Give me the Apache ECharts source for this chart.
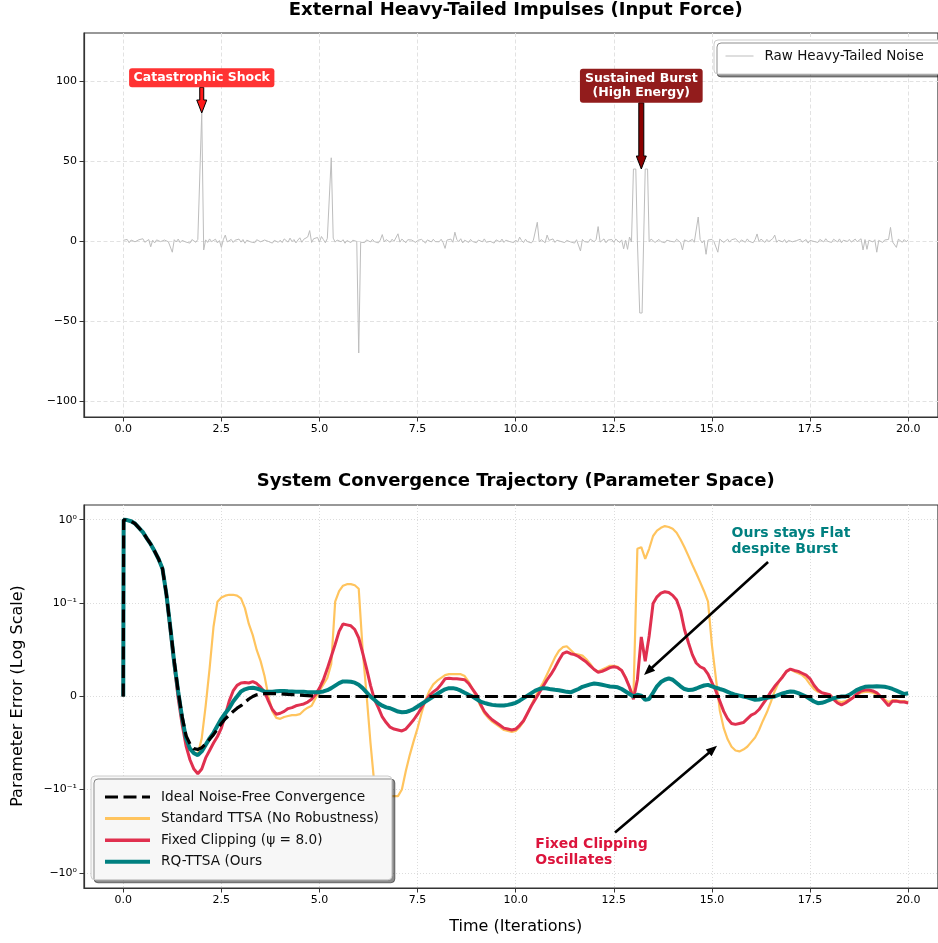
<!DOCTYPE html>
<html><head><meta charset="utf-8">
<script src="https://cdn.jsdelivr.net/npm/echarts@6/dist/echarts.min.js"></script>
<style>html,body{margin:0;padding:0;background:#fff;}#c{width:938px;height:943px;}</style>
</head><body><div id="c"></div>
<script>
// ---------- DATA ----------
const noiseStep = 0.05;   // coarse noise sampling
const burstStep = 0.02;   // fine sampling through the sustained burst
// raw noise, t = 0.00 .. 12.95
const noiseA = [
 0.4,-0.7,1.0,-1.1,0.6,1.3,-0.5,-1.0,0.8,-0.3,1.4,-0.8,0.2,0.9,-3.6,0.5,-1.2,0.7,1.6,-0.4,
 -0.9,0.6,1.1,-0.5,0.3,-7.0,0.8,-0.6,1.2,-1.0,0.4,1.5,-0.7,0.2,-1.3,0.9,0.5,-0.8,1.0,-0.2,
 80,-5.6,0.7,-0.9,1.3,-0.4,0.6,1.1,-1.2,0.3,-4.0,0.8,3.7,-0.6,0.4,1.0,-0.9,0.5,-0.3,1.2,
 -0.7,0.9,-1.4,0.5,1.0,-0.6,0.3,-1.1,0.8,1.5,-0.5,-0.9,0.6,1.1,-0.3,0.7,-1.3,0.4,1.2,-0.8,
 0.5,-1.0,1.3,0.2,-0.7,1.8,-0.4,0.9,-1.2,0.6,2.0,-0.8,1.1,0.4,2.5,6.5,-0.9,1.4,0.3,2.2,
 -0.6,2.8,0.9,-1.1,1.6,0.4,52,1.8,-0.7,0.6,1.2,-0.5,0.8,-1.4,0.3,0.7,-1.0,0.5,1.1,-0.3,
 -70,-0.8,0.4,-1.0,0.7,0.2,-0.6,1.0,-0.4,0.5,-1.2,0.6,4.0,-0.5,0.9,0.3,-0.8,1.1,-0.2,0.6,
 4.5,-0.7,1.2,0.3,-1.1,0.8,-0.3,0.6,1.3,-0.9,0.4,-0.5,1.0,0.2,-1.3,0.7,0.5,-0.6,1.1,-0.4,
 0.8,-0.5,1.1,-1.0,-4.6,0.6,0.3,1.2,-0.8,5.5,0.9,-0.4,1.4,-1.2,0.5,0.2,-0.9,1.0,-0.3,0.7,
 -1.1,0.6,0.9,-0.5,1.3,-0.8,0.4,-0.2,1.0,-1.3,0.7,0.3,-0.6,1.2,-0.9,0.5,1.5,-0.4,0.2,-1.0,
 0.6,-0.7,2.4,0.3,-1.0,1.1,-0.4,0.8,-1.2,0.5,1.0,11.7,-0.6,0.9,0.2,-1.1,3.7,0.4,-0.5,1.3,
 -0.9,0.5,1.2,-0.3,0.7,-1.0,0.4,1.1,-0.6,0.2,-1.3,0.8,0.5,-6.2,1.0,-0.4,0.6,-0.8,1.2,0.3,
 -0.5,1.0,9.0,-0.7,0.4,1.3,-1.1,0.6,-0.3,0.9,-0.8,1.2,0.2,-1.0,0.7,-4.9,0.5,-5.2,2.5,-0.6
];
// sustained burst, t = 13.00 .. 13.40
const burst = [45,45,45,45,45,0.5,0.2,-0.3,-45,-45,-45,-45,-45,0.6,0.3,45,45,45,45,45,-0.5];
// raw noise, t = 13.45 .. 20.00
const noiseB = [
 1.2,0.6,-0.9,0.3,1.0,-0.4,0.7,-1.1,0.5,1.3,-0.2,
 0.8,-0.6,1.1,0.4,-0.9,-5.6,0.7,1.3,-0.4,0.5,1.0,-0.8,0.3,15.0,0.9,-1.2,0.4,-8.3,0.6,-0.5,
 1.0,-0.3,0.5,-7.0,1.2,0.6,-0.9,0.3,1.1,-0.7,0.8,-0.4,1.4,0.2,-1.0,0.7,0.4,-0.8,1.3,-0.2,
 0.6,-1.1,0.9,4.4,-0.5,1.2,0.3,-0.9,1.0,-0.4,0.7,1.5,3.7,-0.8,0.5,1.1,-0.6,0.9,-1.2,0.4,
 1.3,-0.5,0.7,0.2,-1.0,1.1,-0.7,0.5,0.9,-1.3,0.4,1.2,-0.3,0.6,-0.9,1.0,0.3,-0.6,1.4,-0.2,
 0.7,-0.9,1.1,0.4,-0.6,1.3,-1.1,0.5,0.8,-0.3,1.0,-0.7,0.2,1.2,-0.5,0.6,1.4,-5.6,0.9,-5.2,
 0.5,1.1,-0.6,0.8,-7.0,0.4,1.2,-0.9,0.6,-0.3,1.0,8.5,-0.5,0.7,-4.0,1.1,0.3,-0.8,0.9,-0.4,
 0.6
];
const noiseAStart = 0, burstStart = 13.0, noiseBStart = 13.45;

// convergence time grid: 0, 0.01, then 0.1 .. 20.0
const convTimes = [0, 0.01].concat(Array.from({length: 200}, (_, i) => +((i + 1) * 0.1).toFixed(1)));

const idealVals = [0, 1.0,
 0.99,0.96,0.90,0.80,0.71,0.60,0.51,0.42,0.34,0.26,
 0.128,0.074,0.038,0.0054,-0.0216,-0.042,-0.051,-0.056,-0.057,-0.055,
 -0.051,-0.046,-0.041,-0.035,-0.029,-0.024,-0.020,-0.016,-0.0126,-0.0099,
 -0.0063,-0.0027,0,0.0018,0.0027,0.003,0.003,0.003,0.003,0.0028,
 0.0025,0.0022,0.002,0.0018,0.0015,0.0012,0.001,0.0007,0.0004,0.0002,
 0,0,0,0,0,0,0,0,0,0, 0,0,0,0,0,0,0,0,0,0, 0,0,0,0,0,0,0,0,0,0,
 0,0,0,0,0,0,0,0,0,0, 0,0,0,0,0,0,0,0,0,0, 0,0,0,0,0,0,0,0,0,0,
 0,0,0,0,0,0,0,0,0,0, 0,0,0,0,0,0,0,0,0,0, 0,0,0,0,0,0,0,0,0,0,
 0,0,0,0,0,0,0,0,0,0, 0,0,0,0,0,0,0,0,0,0, 0,0,0,0,0,0,0,0,0,0,
 0,0,0,0,0,0,0,0,0,0, 0,0,0,0,0,0,0,0,0,0, 0,0,0,0,0,0,0,0,0,0
];

const ttsaVals = [0, 1.0,
 0.99,0.96,0.90,0.80,0.71,0.60,0.51,0.42,0.34,0.26,
 0.128,0.074,0.036,0.0054,-0.022,-0.044,-0.055,-0.06,-0.062,-0.045,
 -0.01,0.03,0.075,0.105,0.118,0.124,0.127,0.127,0.124,0.115,
 0.095,0.078,0.066,0.05,0.038,0.022,0.0,-0.016,-0.023,-0.024,
 -0.022,-0.021,-0.02,-0.02,-0.019,-0.015,-0.012,-0.01,-0.002,0.006,
 0.013,0.02,0.035,0.105,0.14,0.163,0.17,0.17,0.165,0.15,
 0.05,0.002,-0.05,-0.095,-0.11,-0.115,-0.118,-0.12,-0.12,-0.12,
 -0.1,-0.08,-0.063,-0.048,-0.034,-0.018,-0.004,0.006,0.013,0.017,
 0.02,0.023,0.024,0.024,0.024,0.024,0.022,0.016,0.008,-0.001,
 -0.01,-0.018,-0.023,-0.027,-0.03,-0.033,-0.036,-0.037,-0.038,-0.037,
 -0.033,-0.027,-0.018,-0.009,0.0,0.008,0.015,0.024,0.033,0.042,
 0.049,0.053,0.054,0.05,0.046,0.045,0.044,0.04,0.035,0.029,
 0.027,0.029,0.031,0.033,0.033,0.032,0.028,0.021,0.01,0.0,
 0.45,0.47,0.34,0.45,0.64,0.74,0.8,0.84,0.82,0.78,
 0.7,0.58,0.47,0.37,0.29,0.23,0.18,0.14,0.105,0.055,
 0.02,-0.015,-0.034,-0.046,-0.054,-0.058,-0.059,-0.057,-0.054,-0.049,
 -0.044,-0.036,-0.026,-0.017,-0.006,0.006,0.015,0.022,0.027,0.029,
 0.027,0.025,0.023,0.019,0.013,0.008,0.005,0.004,0.003,0.002,
 -0.002,-0.005,-0.006,-0.005,-0.003,-0.001,0.002,0.004,0.005,0.005,
 0.004,0.002,0.0,-0.003,-0.006,-0.004,-0.004,-0.005,-0.005,-0.006
];

const clipVals = [0, 1.0,
 0.99,0.96,0.90,0.80,0.71,0.60,0.51,0.42,0.34,0.26,
 0.128,0.07,0.033,-0.002,-0.03,-0.053,-0.068,-0.078,-0.083,-0.078,
 -0.066,-0.058,-0.05,-0.043,-0.034,-0.02,-0.005,0.006,0.012,0.0145,
 0.015,0.0145,0.016,0.014,0.01,0.005,-0.005,-0.014,-0.019,-0.018,
 -0.016,-0.013,-0.012,-0.01,-0.009,-0.008,-0.006,-0.003,0.002,0.009,
 0.018,0.03,0.043,0.056,0.07,0.078,0.077,0.076,0.072,0.063,
 0.047,0.03,0.012,-0.003,-0.012,-0.022,-0.028,-0.033,-0.035,-0.036,
 -0.037,-0.035,-0.03,-0.025,-0.019,-0.012,-0.005,0.001,0.005,0.008,
 0.013,0.019,0.0195,0.019,0.019,0.0185,0.018,0.014,0.008,0.002,
 -0.008,-0.016,-0.021,-0.025,-0.028,-0.031,-0.034,-0.035,-0.036,-0.035,
 -0.031,-0.026,-0.018,-0.01,-0.003,0.004,0.011,0.018,0.024,0.031,
 0.039,0.046,0.048,0.046,0.045,0.043,0.04,0.037,0.033,0.029,
 0.026,0.027,0.029,0.031,0.032,0.031,0.028,0.02,0.01,-0.003,
 0.018,0.064,0.038,0.065,0.1,0.12,0.133,0.138,0.135,0.125,
 0.11,0.092,0.072,0.058,0.045,0.036,0.032,0.03,0.024,0.015,
 0.006,-0.005,-0.016,-0.024,-0.029,-0.03,-0.029,-0.028,-0.024,-0.02,
 -0.018,-0.014,-0.008,-0.002,0.005,0.011,0.016,0.021,0.027,0.0295,
 0.028,0.027,0.025,0.023,0.019,0.012,0.007,0.004,0.003,0.002,
 -0.003,-0.007,-0.009,-0.007,-0.004,-0.001,0.003,0.006,0.007,0.007,
 0.006,0.004,0.0,-0.005,-0.01,-0.005,-0.005,-0.006,-0.006,-0.007
];

const rqVals = [0, 1.0,
 0.99,0.96,0.90,0.80,0.71,0.60,0.51,0.42,0.34,0.26,
 0.128,0.074,0.036,0.0054,-0.023,-0.045,-0.056,-0.061,-0.063,-0.059,
 -0.052,-0.045,-0.039,-0.0315,-0.024,-0.018,-0.0126,-0.0054,0,0.0054,
 0.0077,0.009,0.0094,0.0086,0.0072,0.0054,0.005,0.0052,0.0056,0.0059,
 0.0059,0.0056,0.0054,0.0052,0.0051,0.005,0.0047,0.0045,0.0045,0.0047,
 0.0054,0.0068,0.009,0.0117,0.0144,0.0162,0.0162,0.0158,0.0149,0.0126,
 0.009,0.0045,0,-0.0036,-0.0072,-0.0099,-0.0117,-0.0126,-0.0144,-0.0162,
 -0.017,-0.0167,-0.0153,-0.0135,-0.0108,-0.0081,-0.0054,-0.0027,0,0.0027,
 0.0054,0.0077,0.009,0.009,0.0081,0.0063,0.004,0.0018,0,-0.0027,
 -0.0054,-0.0068,-0.0081,-0.009,-0.0095,-0.0096,-0.0096,-0.009,-0.0081,-0.0068,
 -0.0045,-0.0018,0.0009,0.0036,0.0063,0.0081,0.009,0.0086,0.0077,0.0072,
 0.0068,0.0059,0.005,0.0045,0.0063,0.0081,0.0104,0.0117,0.013,0.014,
 0.0135,0.0126,0.0117,0.0108,0.0104,0.0099,0.0081,0.0054,0.0027,0,
 0.0018,0.0009,-0.0036,-0.0027,0.004,0.011,0.0155,0.018,0.0195,0.018,
 0.0145,0.011,0.008,0.007,0.0072,0.0086,0.0104,0.0118,0.0125,0.011,
 0.0095,0.0081,0.0068,0.005,0.0032,0.0018,0.0009,0,-0.0009,-0.0023,
 -0.0036,-0.0032,-0.0023,-0.0014,-0.0005,0,0.0018,0.0032,0.0045,0.0054,
 0.005,0.0036,0.0018,0,-0.0027,-0.0054,-0.0072,-0.0068,-0.0054,-0.0036,
 -0.0018,-0.0009,0,0,0.0018,0.0045,0.0072,0.009,0.0104,0.0108,
 0.0108,0.011,0.0108,0.0104,0.0095,0.0081,0.0063,0.0045,0.0027,0.0035
];

const xTicks = [0, 2.5, 5, 7.5, 10, 12.5, 15, 17.5, 20];
const topYTicks = [-100, -50, 0, 50, 100];
const botYTicks = [-1, -0.1, 0, 0.1, 1];
const botYLabels = ['\u221210\u2070', '\u221210\u207b\u00b9', '0', '10\u207b\u00b9', '10\u2070'];

const names = {
  noise: 'Raw Heavy-Tailed Noise',
  ideal: 'Ideal Noise-Free Convergence',
  ttsa: 'Standard TTSA (No Robustness)',
  clip: 'Fixed Clipping (\u03c8 = 8.0)',
  rq: 'RQ-TTSA (Ours'
};

// ---------- symlog transform (linthresh 0.1, linscale 1, base 10) ----------
const LIN = 0.1, LSCALE = 1 / (1 - 1 / 10);
function symlog(v) {
  const a = Math.abs(v);
  if (a <= LIN) return v / LIN * LSCALE;
  return Math.sign(v) * (LSCALE + Math.log10(a / LIN));
}

const FONT = 'DejaVu Sans';
const AX = '#333';
const fmtMinus = v => String(v).replace('-', '\u2212');
// visible x-range (the figure is cropped on the right, so the axes end short of 21)
const X_MIN = -1, X_MAX = 20.76;

const noiseData = []
  .concat(noiseA.map((v, i) => [+(noiseAStart + i * noiseStep).toFixed(2), v]))
  .concat(burst.map((v, i) => [+(burstStart + i * burstStep).toFixed(2), v]))
  .concat(noiseB.map((v, i) => [+(noiseBStart + i * noiseStep).toFixed(2), v]));

function xAxisCfg(gi, gridType) {
  return {
    type: 'value', gridIndex: gi, min: X_MIN, max: X_MAX,
    axisLine: {show: true, onZero: false, lineStyle: {color: AX, width: 1.2}},
    axisTick: {show: true, customValues: xTicks, length: 4.5, lineStyle: {color: AX, width: 1}},
    axisLabel: {customValues: xTicks, formatter: v => v.toFixed(1), fontSize: 11, color: '#000', fontFamily: FONT, margin: 7},
    splitLine: {show: true, lineStyle: {color: gridType === 'dash' ? '#e2e2e2' : '#dcdcdc', width: 1, type: gridType === 'dash' ? [4, 2.5] : [1, 2]}}
  };
}

const botTickT = botYTicks.map(symlog);

const legendCommon = {
  orient: 'vertical', borderColor: '#cccccc', borderWidth: 1, borderRadius: 4,
  shadowColor: 'rgba(0,0,0,0.45)', shadowOffsetX: 3, shadowOffsetY: 3, shadowBlur: 0,
  itemStyle: {opacity: 0, borderWidth: 0}
};

const option = {
  animation: false,
  backgroundColor: '#ffffff',
  textStyle: {fontFamily: FONT},
  grid: [
    {left: 84, top: 33, right: 0, height: 384, show: true, borderColor: AX, borderWidth: 1.2, backgroundColor: 'transparent'},
    {left: 84, top: 505, right: 0, height: 383, show: true, borderColor: AX, borderWidth: 1.2, backgroundColor: 'transparent'}
  ],
  xAxis: [xAxisCfg(0, 'dash'), xAxisCfg(1, 'dot')],
  yAxis: [
    {
      type: 'value', gridIndex: 0, min: -110, max: 130,
      axisLine: {show: true, onZero: false, lineStyle: {color: AX, width: 1.2}},
      axisTick: {show: true, customValues: topYTicks, length: 4.5, lineStyle: {color: AX}},
      axisLabel: {customValues: topYTicks, formatter: v => fmtMinus(v), fontSize: 11, color: '#000', fontFamily: FONT, margin: 7},
      splitLine: {show: true, lineStyle: {color: '#e2e2e2', type: [4, 2.5]}}
    },
    {
      type: 'value', gridIndex: 1, min: -symlog(1.5), max: symlog(1.5),
      axisLine: {show: true, onZero: false, lineStyle: {color: AX, width: 1.2}},
      axisTick: {show: true, customValues: botTickT, length: 4.5, lineStyle: {color: AX}},
      axisLabel: {
        customValues: botTickT, fontSize: 11, color: '#000', fontFamily: FONT, margin: 7,
        formatter: v => { let k = 0, d = 1e9; botTickT.forEach((t, i) => { if (Math.abs(t - v) < d) { d = Math.abs(t - v); k = i; } }); return botYLabels[k]; }
      },
      splitLine: {show: true, lineStyle: {color: '#dcdcdc', type: [1, 2]}}
    }
  ],
  legend: [
    Object.assign({}, legendCommon, {
      data: [{name: names.noise, lineStyle: {width: 1, color: '#bdbdbd'}}], left: 714, top: 40,
      itemWidth: 28, itemHeight: 12, padding: [9, 40, 11, 11],
      backgroundColor: '#ffffff',
      textStyle: {fontSize: 13.5, color: '#111', fontFamily: FONT, padding: [0, 0, 0, 6]}
    }),
    Object.assign({}, legendCommon, {
      data: [
        {name: names.ideal, lineStyle: {width: 3.2, color: '#000', type: [13, 5.5]}},
        {name: names.ttsa, lineStyle: {width: 3, color: '#ffc45e'}},
        {name: names.clip, lineStyle: {width: 3.4, color: '#e0304f'}},
        {name: names.rq, lineStyle: {width: 4, color: '#008080'}}
      ],
      left: 91, top: 776,
      itemWidth: 45, itemHeight: 14, itemGap: 5.6, padding: [13, 13, 10, 12],
      backgroundColor: '#f7f7f7',
      textStyle: {fontSize: 13.7, color: '#111', fontFamily: FONT, padding: [0, 0, 0, 6], lineHeight: 16}
    })
  ],
  series: [
    {
      name: names.noise, type: 'line', xAxisIndex: 0, yAxisIndex: 0, symbol: 'none', z: 2,
      lineStyle: {color: '#bdbdbd', width: 1}, itemStyle: {color: '#bdbdbd'},
      data: noiseData
    },
    {
      name: names.ttsa, type: 'line', xAxisIndex: 1, yAxisIndex: 1, symbol: 'none', z: 3,
      lineStyle: {color: '#ffc45e', width: 2.2}, itemStyle: {color: '#ffc45e'},
      data: convTimes.map((t, i) => [t, symlog(ttsaVals[i])])
    },
    {
      name: names.clip, type: 'line', xAxisIndex: 1, yAxisIndex: 1, symbol: 'none', z: 4,
      lineStyle: {color: '#e0304f', width: 3}, itemStyle: {color: '#e0304f'},
      data: convTimes.map((t, i) => [t, symlog(clipVals[i])])
    },
    {
      name: names.rq, type: 'line', xAxisIndex: 1, yAxisIndex: 1, symbol: 'none', z: 5,
      lineStyle: {color: '#008080', width: 4}, itemStyle: {color: '#008080'},
      data: convTimes.map((t, i) => [t, symlog(rqVals[i])])
    },
    {
      name: names.ideal, type: 'line', xAxisIndex: 1, yAxisIndex: 1, symbol: 'none', z: 6,
      lineStyle: {color: '#000000', width: 3.2, type: [13, 5.5]}, itemStyle: {color: '#000000'},
      data: convTimes.map((t, i) => [t, symlog(idealVals[i])])
    }
  ]
};

const chart = echarts.init(document.getElementById('c'), null, {renderer: 'canvas', width: 938, height: 943});
chart.setOption(option);

// ---------- annotations ----------
const pTop = (x, y) => chart.convertToPixel({xAxisIndex: 0, yAxisIndex: 0}, [x, y]);
const pBot = (x, y) => chart.convertToPixel({xAxisIndex: 1, yAxisIndex: 1}, [x, symlog(y)]);

function arrowPoly(x0, y0, x1, y1, shaftW, headW, headL) {
  const dx = x1 - x0, dy = y1 - y0, L = Math.hypot(dx, dy), ux = dx / L, uy = dy / L, nx = -uy, ny = ux;
  const bx = x1 - ux * headL, by = y1 - uy * headL;
  return [
    [x0 + nx * shaftW / 2, y0 + ny * shaftW / 2], [bx + nx * shaftW / 2, by + ny * shaftW / 2],
    [bx + nx * headW / 2, by + ny * headW / 2], [x1, y1],
    [bx - nx * headW / 2, by - ny * headW / 2], [bx - nx * shaftW / 2, by - ny * shaftW / 2],
    [x0 - nx * shaftW / 2, y0 - ny * shaftW / 2]
  ];
}

const cx = (pTop(X_MIN, 0)[0] + pTop(21, 0)[0]) / 2; // centre of the full (uncropped) axes
const g = [];
g.push({type: 'text', x: cx, y: 10, z: 50, style: {text: 'External Heavy-Tailed Impulses (Input Force)', fontFamily: FONT, fontSize: 18, fontWeight: 'bold', fill: '#000', align: 'center', verticalAlign: 'middle'}});
g.push({type: 'text', x: cx, y: 481, z: 50, style: {text: 'System Convergence Trajectory (Parameter Space)', fontFamily: FONT, fontSize: 18, fontWeight: 'bold', fill: '#000', align: 'center', verticalAlign: 'middle'}});
g.push({type: 'text', x: cx, y: 927, z: 50, style: {text: 'Time (Iterations)', fontFamily: FONT, fontSize: 16, fill: '#000', align: 'center', verticalAlign: 'middle'}});
g.push({type: 'text', x: 18, y: 696, rotation: Math.PI / 2, z: 50, style: {text: 'Parameter Error (Log Scale)', fontFamily: FONT, fontSize: 16, fill: '#000', align: 'center', verticalAlign: 'middle'}});

{
  const c = pTop(2.0, 102), tip = pTop(2.0, 80);
  g.push({type: 'polygon', z: 60, shape: {points: arrowPoly(c[0], c[1] + 9.5, tip[0], tip[1], 4, 10, 13)}, style: {fill: '#ff1a1a', stroke: '#000', lineWidth: 1}});
  g.push({type: 'text', x: c[0], y: c[1], z: 61, style: {text: 'Catastrophic Shock', fontFamily: FONT, fontSize: 12.5, fontWeight: 'bold', fill: '#fff', align: 'center', verticalAlign: 'middle', backgroundColor: '#ff3333', padding: [3, 4.5, 2, 4.5], borderRadius: 3, lineHeight: 14}});
}
{
  const c = pTop(13.2, 97), tip = pTop(13.2, 45);
  g.push({type: 'polygon', z: 60, shape: {points: arrowPoly(c[0], c[1] + 17, tip[0], tip[1], 5, 10, 13)}, style: {fill: '#8b0000', stroke: '#000', lineWidth: 1}});
  g.push({type: 'text', x: c[0], y: c[1], z: 61, style: {text: 'Sustained Burst\n(High Energy)', fontFamily: FONT, fontSize: 12.5, fontWeight: 'bold', fill: '#fff', align: 'center', verticalAlign: 'middle', backgroundColor: '#921c1c', padding: [3, 5], borderRadius: 3, lineHeight: 14}});
}
{
  const tail = pBot(16.43, 0.313), tip = pBot(13.27, 0.0232), tp = pBot(15.5, 0.85);
  g.push({type: 'polygon', z: 60, shape: {points: arrowPoly(tail[0], tail[1], tip[0], tip[1], 2.6, 9, 11)}, style: {fill: '#000'}});
  g.push({type: 'text', x: tp[0], y: tp[1], z: 61, style: {text: 'Ours stays Flat\ndespite Burst', fontFamily: FONT, fontSize: 14, fontWeight: 'bold', fill: '#008080', align: 'left', verticalAlign: 'top', lineHeight: 16}});
}
{
  const tail = pBot(12.53, -0.325), tip = pBot(15.13, -0.053), tp = pBot(10.5, -0.363);
  g.push({type: 'polygon', z: 60, shape: {points: arrowPoly(tail[0], tail[1], tip[0], tip[1], 2.6, 9, 11)}, style: {fill: '#000'}});
  g.push({type: 'text', x: tp[0], y: tp[1], z: 61, style: {text: 'Fixed Clipping\nOscillates', fontFamily: FONT, fontSize: 14, fontWeight: 'bold', fill: '#dc143c', align: 'left', verticalAlign: 'top', lineHeight: 16}});
}
chart.setOption({graphic: g});
</script>
</body></html>
